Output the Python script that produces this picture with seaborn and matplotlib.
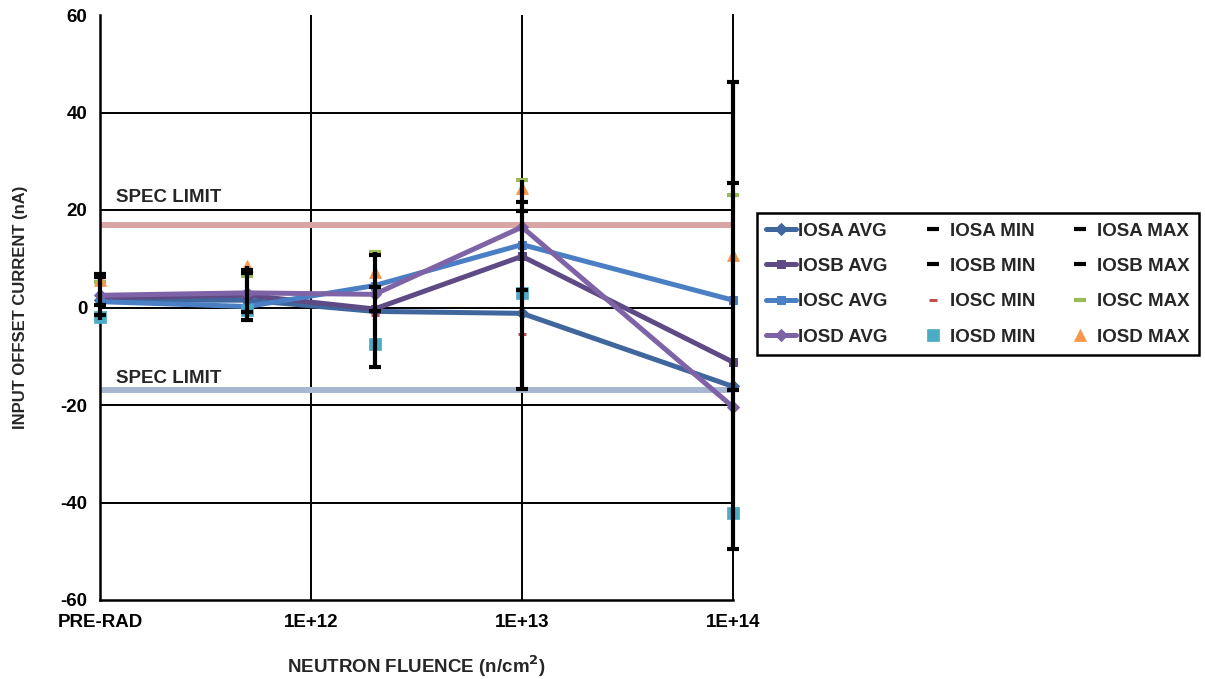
import numpy as np
import pandas as pd
import matplotlib
matplotlib.use("Agg")
import matplotlib.pyplot as plt
import seaborn as sns

# ---------------- data ----------------
fluence = [1e11, 5e11, 2e12, 1e13, 1e14]          # 1e11 plotted as PRE-RAD
xtick_vals = [1e11, 1e12, 1e13, 1e14]
xtick_labels = ["PRE-RAD", "1E+12", "1E+13", "1E+14"]
ytick_vals = [-60, -40, -20, 0, 20, 40, 60]

iosa_avg = [1.5, 1.5, -0.8, -1.2, -16.2]
iosb_avg = [2.0, 2.5, -0.3, 10.5, -11.2]
iosc_avg = [1.2, 0.2, 4.5, 12.9, 1.5]
iosd_avg = [2.5, 3.0, 2.7, 16.5, -20.4]

iosa_min = [-1.6, -2.5, -12.3, -16.7, -49.5]
iosb_min = [0.5, -1.0, -0.8, 3.6, -17.0]
iosc_min = [-2.5, -2.5, -1.6, -5.4, -16.7]
iosd_min = [-1.9, -0.6, -7.5, 2.9, -42.2]

iosa_max = [6.8, 7.7, 10.7, 21.6, 46.2]
iosb_max = [6.2, 7.0, 4.2, 19.7, 25.6]
iosc_max = [5.3, 6.4, 11.4, 26.2, 23.1]
iosd_max = [5.6, 8.5, 7.3, 24.5, 10.8]

spec_limits = [17, -17]
spec_text = "SPEC LIMIT"

# ---------------- style ----------------
sns.set_theme(style="white")
plt.rcParams["font.family"] = ["Liberation Sans", "DejaVu Sans"]
plt.rcParams["font.weight"] = "bold"
plt.rcParams["mathtext.default"] = "bf"

FS = 13.5

fig = plt.figure(figsize=(12.05, 6.79), dpi=100)
ax = fig.add_axes([100 / 1205, 1 - 600 / 679, 633 / 1205, 585 / 679])
ax.set_xscale("log")
ax.set_xlim(1e11, 1e14)
ax.set_ylim(-60, 60)

# grid
for y in [-40, -20, 0, 20, 40]:
    ax.axhline(y, color="black", lw=1.4, zorder=1)
for x in [1e12, 1e13]:
    ax.axvline(x, color="black", lw=1.4, zorder=1)

# spec limits
ax.axhline(spec_limits[0], color="#D9A5A4", lw=4.3, zorder=2)
ax.axhline(spec_limits[1], color="#A7B7D2", lw=4.3, zorder=2)
ax.text(1.19e11, 22.6, spec_text, fontsize=FS, fontweight="bold", ha="left", va="center")
ax.text(1.19e11, -14.5, spec_text, fontsize=FS, fontweight="bold", ha="left", va="center")

handles = {}

def avg_line(vals, color, marker, ms, label):
    sns.lineplot(x=fluence, y=vals, ax=ax, color=color, lw=3.6, marker=marker,
                 markersize=ms, markeredgecolor=color, markerfacecolor=color,
                 zorder=3, label=label, legend=False, clip_on=False)
    handles[label] = ax.get_lines()[-1]

avg_line(iosa_avg, "#3F679D", "D", 6, "IOSA AVG")
avg_line(iosb_avg, "#5E4B86", "s", 6, "IOSB AVG")
avg_line(iosc_avg, "#4A7FC4", "s", 6, "IOSC AVG")
avg_line(iosd_avg, "#7F63A7", "D", 6, "IOSD AVG")

# vertical range bars
all_series = [iosa_min, iosb_min, iosc_min, iosd_min, iosa_max, iosb_max, iosc_max, iosd_max]
all_lo = np.min(all_series, axis=0)
all_hi = np.max(all_series, axis=0)

def mark(vals, color, marker, ms, mew, label, z=5):
    sns.lineplot(x=fluence, y=vals, ax=ax, color=color, linestyle="none",
                 marker=marker, markersize=ms, markeredgecolor=color,
                 markerfacecolor=color, markeredgewidth=mew, zorder=z,
                 label=label, legend=False, clip_on=False)
    handles[label] = ax.get_lines()[-1]

mark(iosc_min, "#C0504D", "_", 6, 2.2, "IOSC MIN")
mark(iosc_max, "#9BBB59", "_", 9, 3.0, "IOSC MAX")
mark(iosd_min, "#4BACC6", "s", 8, 0.5, "IOSD MIN")
mark(iosd_max, "#F79646", "^", 8, 0.5, "IOSD MAX")

vl = ax.vlines(fluence, all_lo, all_hi, color="black", lw=3.0, zorder=6)
vl.set_clip_on(False)

mark(iosa_min, "black", "_", 9, 3.0, "IOSA MIN", z=7)
mark(iosb_min, "black", "_", 9, 3.0, "IOSB MIN", z=7)
mark(iosa_max, "black", "_", 9, 3.0, "IOSA MAX", z=7)
mark(iosb_max, "black", "_", 9, 3.0, "IOSB MAX", z=7)

# axes styling
ax.set_xticks(xtick_vals)
ax.set_xticklabels(xtick_labels)
ax.xaxis.set_minor_locator(matplotlib.ticker.NullLocator())
ax.set_yticks(ytick_vals)
ax.set_yticklabels([str(v) for v in ytick_vals])
ax.tick_params(axis="both", length=0, labelsize=FS, colors="black")
ax.tick_params(axis="x", pad=10)
ax.tick_params(axis="y", pad=9)
for lab in ax.get_xticklabels() + ax.get_yticklabels():
    lab.set_fontweight("bold")

for s in ["left", "bottom", "right"]:
    ax.spines[s].set_visible(True)
    ax.spines[s].set_color("black")
    ax.spines[s].set_linewidth(1.8)
ax.spines["right"].set_linewidth(1.4)
ax.spines["top"].set_visible(False)

ax.set_xlabel("NEUTRON FLUENCE (n/cm$^\\mathbf{2}$)", fontsize=FS, fontweight="bold")
ax.set_ylabel("INPUT OFFSET CURRENT (nA)", fontsize=12, fontweight="bold")
ax.xaxis.set_label_coords(0.5, -0.092)
ax.yaxis.set_label_coords(-0.113, 0.5)

order = ["IOSA AVG", "IOSB AVG", "IOSC AVG", "IOSD AVG",
         "IOSA MIN", "IOSB MIN", "IOSC MIN", "IOSD MIN",
         "IOSA MAX", "IOSB MAX", "IOSC MAX", "IOSD MAX"]
leg = fig.legend([handles[k] for k in order], order, ncol=3,
                 loc="upper left", bbox_to_anchor=(757 / 1205, 1 - 213 / 679),
                 frameon=True, fancybox=False, framealpha=1, edgecolor="black",
                 prop={"weight": "bold", "size": FS}, handlelength=1.6,
                 handletextpad=0.1, columnspacing=1.6, labelspacing=0.98,
                 borderpad=0.5, borderaxespad=0)
leg.get_frame().set_linewidth(1.8)

fig.savefig("out.png", dpi=100, facecolor="white")
